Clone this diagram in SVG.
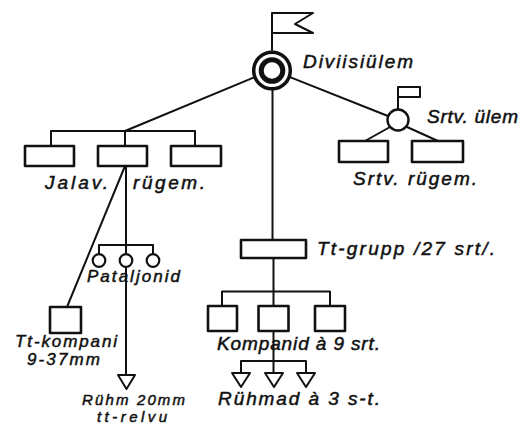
<svg xmlns="http://www.w3.org/2000/svg" width="530" height="425" viewBox="0 0 530 425">
<style>
.ln{stroke:#111;stroke-width:2;fill:none;stroke-linecap:round;stroke-linejoin:round}
.bx{stroke:#111;stroke-width:2.6;fill:#fff;stroke-linejoin:round}
.lbl{font-family:"Liberation Sans",Arial,sans-serif;font-style:italic;font-size:19px;fill:#111;stroke:#111;stroke-width:0.5}
.sm{font-size:17px}
.xs{font-size:15px}
</style>
<rect width="530" height="425" fill="#fff"/>
<g id="connectors" class="ln">
<line x1="272.5" y1="90" x2="272.5" y2="240"/>
<line x1="253.5" y1="77.7" x2="125" y2="131"/>
<polyline points="51,146 51,131 195,131 195,146"/>
<line x1="125" y1="131" x2="125" y2="146"/>
<line x1="290.6" y1="77.4" x2="387.3" y2="115.8"/>
<line x1="390" y1="127" x2="365" y2="141"/>
<line x1="407" y1="127" x2="438" y2="141"/>
<line x1="125" y1="166" x2="67" y2="307"/>
<line x1="126" y1="166" x2="126" y2="375"/>
<polyline points="99,254 99,245 153,245 153,254"/>
<line x1="273.5" y1="258" x2="273.5" y2="306"/>
<polyline points="222,306 222,291.5 330,291.5 330,306"/>
<line x1="273.5" y1="331" x2="273.5" y2="373"/>
<polyline points="241,373 241,361 306,361 306,373"/>
</g>
<g id="div-commander">
<polyline class="ln" points="272,50 272,13 313,13 295,24 313,33 272,33"/>
<circle cx="272" cy="70.5" r="18.3" fill="#fff" stroke="#111" stroke-width="3.5"/>
<circle cx="272" cy="70.5" r="10.8" fill="#fff" stroke="#111" stroke-width="5"/>
</g>
<g id="art-commander">
<polyline class="ln" points="398,109 398,87 420,87 420,97 398,97"/>
<circle cx="398" cy="120" r="10.5" fill="#fff" stroke="#111" stroke-width="2.4"/>
</g>
<g id="inf-regiments">
<rect class="bx" x="25" y="146" width="49" height="20"/>
<rect class="bx" x="98" y="146" width="49" height="20"/>
<rect class="bx" x="171" y="146" width="50" height="20"/>
</g>
<g id="art-regiments">
<rect class="bx" x="339" y="141" width="49" height="21"/>
<rect class="bx" x="412" y="141" width="51" height="21"/>
</g>
<g id="battalions" stroke="#111" stroke-width="2.2" fill="#fff">
<circle cx="99" cy="260.5" r="6.3"/>
<circle cx="126" cy="260.5" r="6.3"/>
<circle cx="153" cy="260.5" r="6.3"/>
</g>
<g id="tt-company">
<rect class="bx" x="50" y="307" width="31" height="26"/>
</g>
<g id="platoon-20mm">
<polygon class="ln" points="118,375 135,375 126.5,389" fill="#fff"/>
</g>
<g id="tt-group">
<rect class="bx" x="241" y="240" width="65" height="18"/>
</g>
<g id="companies">
<rect class="bx" x="208" y="306" width="29" height="25"/>
<rect class="bx" x="258.5" y="306" width="30" height="25"/>
<rect class="bx" x="315" y="306" width="30" height="25"/>
</g>
<g id="platoons">
<polygon class="ln" points="232,373 250,373 241,387" fill="#fff"/>
<polygon class="ln" points="265,373 283,373 274,387" fill="#fff"/>
<polygon class="ln" points="297,373 315,373 306,387" fill="#fff"/>
</g>
<g id="labels">
<text class="lbl" x="303" y="68" textLength="110" lengthAdjust="spacing">Diviisiülem</text>
<text class="lbl" x="427" y="123" textLength="91" lengthAdjust="spacing">Srtv. ülem</text>
<text class="lbl" x="353" y="185" textLength="124" lengthAdjust="spacing">Srtv. rügem.</text>
<text class="lbl" x="45" y="189" textLength="63" lengthAdjust="spacing">Jalav.</text>
<text class="lbl" x="133" y="189" textLength="72" lengthAdjust="spacing">rügem.</text>
<text class="lbl sm" x="87" y="282" textLength="93" lengthAdjust="spacing">Pataljonid</text>
<text class="lbl" x="317" y="255" textLength="178" lengthAdjust="spacing">Tt-grupp /27 srt/.</text>
<text class="lbl" x="217" y="350" textLength="163" lengthAdjust="spacing">Kompanid à 9 srt.</text>
<text class="lbl" x="218" y="405" textLength="162" lengthAdjust="spacing">Rühmad à 3 s-t.</text>
<text class="lbl sm" x="15" y="347" textLength="102" lengthAdjust="spacing">Tt-kompani</text>
<text class="lbl sm" x="27" y="365" textLength="73" lengthAdjust="spacing">9-37mm</text>
<text class="lbl xs" x="82" y="405" textLength="103" lengthAdjust="spacing">Rühm 20mm</text>
<text class="lbl xs" x="97" y="421.5" textLength="70" lengthAdjust="spacing">tt-relvu</text>
</g>
</svg>
